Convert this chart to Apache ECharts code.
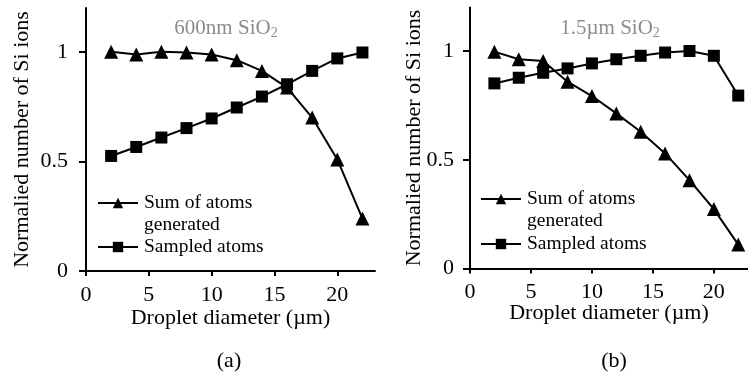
<!DOCTYPE html>
<html><head><meta charset="utf-8">
<script src="https://cdn.jsdelivr.net/npm/echarts@6/dist/echarts.min.js"></script>
<style>html,body{margin:0;padding:0;background:#fff}#c{width:748px;height:374px}</style>
</head><body><div id="c"></div>
<script>
const diameters = [2, 4, 6, 8, 10, 12, 14, 16, 18, 20, 22];
const sumA = [1.0, 0.988, 1.0, 0.997, 0.988, 0.962, 0.913, 0.837, 0.70, 0.509, 0.239];
const sampledA = [0.525, 0.566, 0.609, 0.652, 0.696, 0.746, 0.796, 0.852, 0.913, 0.97, 0.997];
const sumB = [0.997, 0.962, 0.954, 0.859, 0.793, 0.713, 0.629, 0.529, 0.406, 0.273, 0.11];
const sampledB = [0.851, 0.877, 0.90, 0.92, 0.943, 0.962, 0.978, 0.993, 1.0, 0.978, 0.795];
const xTicks = [0, 5, 10, 15, 20];
const yTicks = [0, 0.5, 1];
const titleA = '600nm SiO';
const titleB = '1.5\u00b5m SiO';
const seriesNames = ['Sum of atoms generated', 'Sampled atoms'];

const FONT = '"Liberation Serif", "Times New Roman", serif';
const pair = (xs, ys) => xs.map((x, i) => [x, ys[i]]);

function xAxis(gi, max, gap) {
  return {
    type: 'value', gridIndex: gi, min: 0, max: max, interval: 5,
    name: 'Droplet diameter (\u00b5m)', nameLocation: 'middle', nameGap: gap, nameMoveOverlap: false,
    nameTextStyle: { fontFamily: FONT, fontSize: 22, color: '#000' },
    axisLine: { show: true, lineStyle: { color: '#000', width: 2 } },
    axisTick: { show: true, length: 5, lineStyle: { color: '#000', width: 2 }, customValues: xTicks },
    axisLabel: { fontFamily: FONT, fontSize: 22, color: '#000', margin: 13, customValues: xTicks },
    splitLine: { show: false }
  };
}
function yAxis(gi, gap, margin) {
  return {
    type: 'value', gridIndex: gi, min: 0, max: 1.2, interval: 0.5,
    name: 'Normalied number of Si ions', nameLocation: 'middle', nameGap: gap, nameMoveOverlap: false,
    nameTextStyle: { fontFamily: FONT, fontSize: 22, color: '#000' },
    axisLine: { show: true, lineStyle: { color: '#000', width: 2 } },
    axisTick: { show: true, length: 7, lineStyle: { color: '#000', width: 2 }, customValues: yTicks },
    axisLabel: { fontFamily: FONT, fontSize: 22, color: '#000', margin: margin, customValues: yTicks },
    splitLine: { show: false }
  };
}
function series(name, gi, ys, sym, size) {
  return {
    name: name, type: 'line', xAxisIndex: gi, yAxisIndex: gi,
    data: pair(diameters, ys), symbol: sym, symbolSize: size,
    itemStyle: { color: '#000' }, lineStyle: { color: '#000', width: 2 },
    animation: false, z: sym === 'rect' ? 3 : 2
  };
}
function legend(left, top, gap) {
  return {
    left: left, top: top, orient: 'vertical', itemWidth: 40, itemHeight: 13,
    itemGap: gap, selectedMode: false, padding: 0,
    data: seriesNames.map(n => ({ name: n })),
    formatter: n => n === seriesNames[0] ? '\nSum of atoms\ngenerated' : n,
    textStyle: { fontFamily: FONT, fontSize: 19.5, color: '#000', lineHeight: 22, padding: [0, 0, 0, 1] }
  };
}
const subRich = {
  m: { fontFamily: FONT, fontSize: 21, fontWeight: 'normal', color: '#8c8c8c', lineHeight: 24 },
  s: { fontFamily: FONT, fontSize: 14, fontWeight: 'normal', color: '#8c8c8c', verticalAlign: 'bottom', lineHeight: 24, padding: [10, 0, 0, 0] }
};
const capStyle = { fontFamily: FONT, fontSize: 22, fontWeight: 'normal', color: '#000' };
const chart = echarts.init(document.getElementById('c'), null, { renderer: 'canvas' });
chart.setOption({
  backgroundColor: '#fff',
  animation: false,
  title: [
    { text: '{m|' + titleA + '}{s|2}', left: 221, top: 11, textAlign: 'center', textStyle: { fontWeight: 'normal', rich: subRich } },
    { text: '{m|' + titleB + '}{s|2}', left: 605, top: 11, textAlign: 'center', textStyle: { fontWeight: 'normal', rich: subRich } },
    { text: '(a)', left: 229, top: 350, textAlign: 'center', padding: 0, textStyle: capStyle },
    { text: '(b)', left: 614, top: 350, textAlign: 'center', padding: 0, textStyle: capStyle }
  ],
  grid: [
    { left: 86, top: 8, width: 289, height: 263 },
    { left: 470, top: 7.5, width: 278, height: 261 }
  ],
  xAxis: [xAxis(0, 23, 36), xAxis(1, 22.8, 34)],
  yAxis: [yAxis(0, 53, 18), yAxis(1, 45, 16)],
  legend: [
    legend(97, 170, 0),
    legend(480, 166, 1)
  ],
  series: [
    series(seriesNames[0], 0, sumA, 'triangle', 14),
    series(seriesNames[1], 0, sampledA, 'rect', 12),
    series(seriesNames[0], 1, sumB, 'triangle', 14),
    series(seriesNames[1], 1, sampledB, 'rect', 12)
  ]
});
</script></body></html>
